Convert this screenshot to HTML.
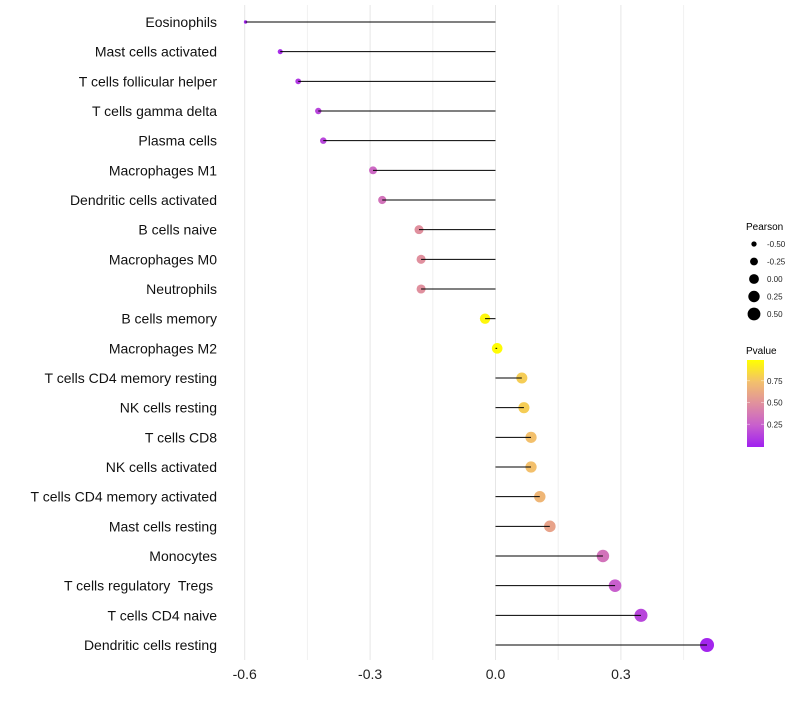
<!DOCTYPE html>
<html><head><meta charset="utf-8"><style>
body{margin:0;background:#fff}
svg{font-family:"Liberation Sans",sans-serif}
text{white-space:pre}
</style></head><body>
<svg id="chart" width="800" height="700" viewBox="0 0 800 700" xmlns="http://www.w3.org/2000/svg">
<g id="grid"></g>
<g id="dots"></g>
<g id="marks"></g>
<g id="ylabels"></g>
<g id="xlabels"></g>
<g id="legend"></g>
</svg>
<script>
const categories=["Eosinophils","Mast cells activated","T cells follicular helper","T cells gamma delta","Plasma cells","Macrophages M1","Dendritic cells activated","B cells naive","Macrophages M0","Neutrophils","B cells memory","Macrophages M2","T cells CD4 memory resting","NK cells resting","T cells CD8","NK cells activated","T cells CD4 memory activated","Mast cells resting","Monocytes","T cells regulatory  Tregs ","T cells CD4 naive","Dendritic cells resting"];
const pearson=[-0.598,-0.515,-0.472,-0.424,-0.412,-0.293,-0.271,-0.183,-0.178,-0.178,-0.025,0.004,0.063,0.068,0.085,0.085,0.106,0.13,0.257,0.286,0.348,0.506];
const pvalue=[0.01,0.05,0.1,0.15,0.15,0.3,0.35,0.5,0.5,0.5,0.97,0.99,0.8,0.8,0.75,0.75,0.7,0.6,0.35,0.25,0.15,0.02];
const xTicks=[-0.6,-0.3,0.0,0.3];
const xTickLabels=["-0.6","-0.3","0.0","0.3"];
const xMinor=[-0.45,-0.15,0.15,0.45];
const sizeLegend=[-0.5,-0.25,0,0.25,0.5];
const sizeLegendLabels=["-0.50","-0.25","0.00","0.25","0.50"];
const colorLegend=[0.25,0.5,0.75];
const colorLegendLabels=["0.25","0.50","0.75"];

const NS="http://www.w3.org/2000/svg";
const X=v=>495.5+v*418;
const Y=i=>22+i*(623/21);
const R=p=>Math.sqrt(Math.max(1.5,28+42*p));
const RL=p=>Math.sqrt(24+34*p);
const stops=[[0,[160,32,240]],[0.25,[200,95,205]],[0.5,[224,144,158]],[0.75,[243,192,108]],[1,[255,255,0]]];
function col(p){for(let i=1;i<stops.length;i++){if(p<=stops[i][0]){const a=stops[i-1],b=stops[i],t=(p-a[0])/(b[0]-a[0]);return "rgb("+a[1].map((c,k)=>Math.round(c+(b[1][k]-c)*t)).join(",")+")";}}return "rgb(255,255,0)";}
function mk(tag,attrs,parent){const e=document.createElementNS(NS,tag);for(const k in attrs)e.setAttribute(k,attrs[k]);parent.appendChild(e);return e;}
const grid=document.getElementById('grid'),dots=document.getElementById('dots'),marks=document.getElementById('marks'),yl=document.getElementById('ylabels'),xl=document.getElementById('xlabels'),lg=document.getElementById('legend');
xMinor.forEach(v=>{const l=mk('line',{x1:X(v),x2:X(v),y1:5,y2:660,stroke:'#f0f0f0','stroke-width':1},grid);

});
xTicks.forEach((v,i)=>{const l=mk('line',{x1:X(v),x2:X(v),y1:5,y2:660,stroke:'#e6e6e6','stroke-width':1},grid);


const t=mk('text',{x:X(v),y:679,'text-anchor':'middle','font-size':14,fill:'#222'},xl);t.textContent=xTickLabels[i];

});
categories.forEach((c,i)=>{const y=Y(i);
const d=mk('circle',{cx:X(pearson[i]),cy:y,r:R(pearson[i]),fill:col(pvalue[i])},dots);


const s=mk('line',{x1:X(0),x2:X(pearson[i]),y1:y,y2:y,stroke:'#000','stroke-width':1},marks);


const t=mk('text',{x:217,y:y+5,'text-anchor':'end','font-size':14,fill:'#111'},yl);t.textContent=c;

});
let t=mk('text',{x:746,y:230,'font-size':10,fill:'#000'},lg);t.textContent="Pearson";


sizeLegend.forEach((p,i)=>{const y=244+i*17.5;
const c=mk('circle',{cx:754,cy:y,r:RL(p),fill:'#000'},lg);


const tt=mk('text',{x:767,y:y+3,'font-size':8,fill:'#222'},lg);tt.textContent=sizeLegendLabels[i];

});
t=mk('text',{x:746,y:354,'font-size':10,fill:'#000'},lg);t.textContent="Pvalue";


const defs=mk('defs',{},lg);const g=mk('linearGradient',{id:'pg',x1:0,y1:1,x2:0,y2:0},defs);
stops.forEach(s=>mk('stop',{offset:s[0],'stop-color':'rgb('+s[1].join(',')+')'},g));
const bar=mk('rect',{x:747,y:360,width:17,height:87,fill:'url(#pg)'},lg);


const CY=p=>446-p*87;
colorLegend.forEach((p,i)=>{const tt=mk('text',{x:767,y:CY(p)+3,'font-size':8,fill:'#222'},lg);tt.textContent=colorLegendLabels[i];


mk('line',{x1:747,x2:750,y1:CY(p),y2:CY(p),stroke:'#fff','stroke-width':0.7,opacity:0.6},lg);
mk('line',{x1:761,x2:764,y1:CY(p),y2:CY(p),stroke:'#fff','stroke-width':0.7,opacity:0.6},lg);});
</script>
</body></html>
